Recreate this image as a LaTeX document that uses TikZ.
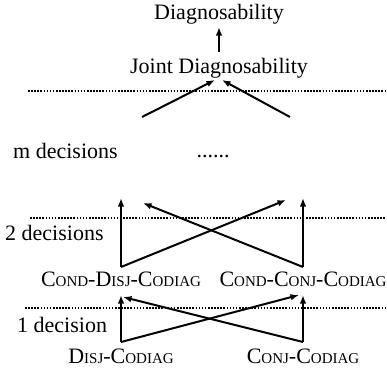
\documentclass[tikz,border=0pt]{standalone}
\usepackage{fontspec}
\setmainfont{Liberation Serif}
\usetikzlibrary{arrows.meta}
% hand-made small capitals: full-size initials, reduced capitals after
\newcommand\smcap[1]{{\fontsize{15}{18}\selectfont #1}}
\begin{document}
\begin{tikzpicture}[x=1pt,y=-1pt,
  lbl/.style={anchor=base,inner sep=0pt,font=\fontsize{22}{26}\selectfont},
  lft/.style={lbl,anchor=base west},
  link/.style={line width=2pt,-{Latex[length=8.5pt,width=6.5pt]}},
  layer/.style={line width=1.9pt,dash pattern=on 1.6pt off 1.5pt}]
\useasboundingbox (0,0) rectangle (387,368);

% text of the hierarchy
\node[lbl] (diag) at (219,19.5) {Diagnosability};
\node[lbl] (joint) at (219,73) {Joint Diagnosability};
\node[lft] (mdec) at (13,158) {m decisions};
\node[lbl] (dots) at (213,157) {......};
\node[lft] (twodec) at (5,240) {2 decisions};
\node[lbl] (cdisj) at (121,286) {C\smcap{OND}-D\smcap{ISJ}-C\smcap{ODIAG}};
\node[lbl] (cconj) at (303,286) {C\smcap{OND}-C\smcap{ONJ}-C\smcap{ODIAG}};
\node[lft] (onedec) at (17,332) {1 decision};
\node[lbl] (disj) at (121,363) {D\smcap{ISJ}-C\smcap{ODIAG}};
\node[lbl] (conj) at (303,363) {C\smcap{ONJ}-C\smcap{ODIAG}};

% layer separators
\coordinate (s1a) at (28,90.7);  \coordinate (s1b) at (387,90.7);
\coordinate (s2a) at (30,218);   \coordinate (s2b) at (387,218);
\coordinate (s3a) at (25,308);   \coordinate (s3b) at (387,308);
\draw[layer] (s1a) -- (s1b);
\draw[layer] (s2a) -- (s2b);
\draw[layer] (s3a) -- (s3b);

% arrow end points
\coordinate (jtop) at (219,52);  \coordinate (dbot) at (219,27);
\coordinate (mL) at (142,117);   \coordinate (mR) at (290,117);
\coordinate (jL) at (215,80);    \coordinate (jR) at (222,80);
\coordinate (cdL) at (121,267);  \coordinate (ccR) at (303,267);
\coordinate (uL) at (121,198);   \coordinate (uR) at (303,198);
\coordinate (xL) at (143,203);   \coordinate (xR) at (286,200);
\coordinate (dL) at (121,342);   \coordinate (dR) at (303,342);
\coordinate (vL) at (121,295);   \coordinate (vR) at (303,295);
\coordinate (wL) at (123,297);   \coordinate (wR) at (299,295);

% connectors
\draw[link] (jtop) -- (dbot);
\draw[link] (mL) -- (jL);
\draw[link] (mR) -- (jR);
\draw[link] (cdL) -- (uL);
\draw[link] (cdL) -- (xR);
\draw[link] (ccR) -- (uR);
\draw[link] (ccR) -- (xL);
\draw[link] (dL) -- (vL);
\draw[link] (dL) -- (wR);
\draw[link] (dR) -- (vR);
\draw[link] (dR) -- (wL);
\end{tikzpicture}
\end{document}
